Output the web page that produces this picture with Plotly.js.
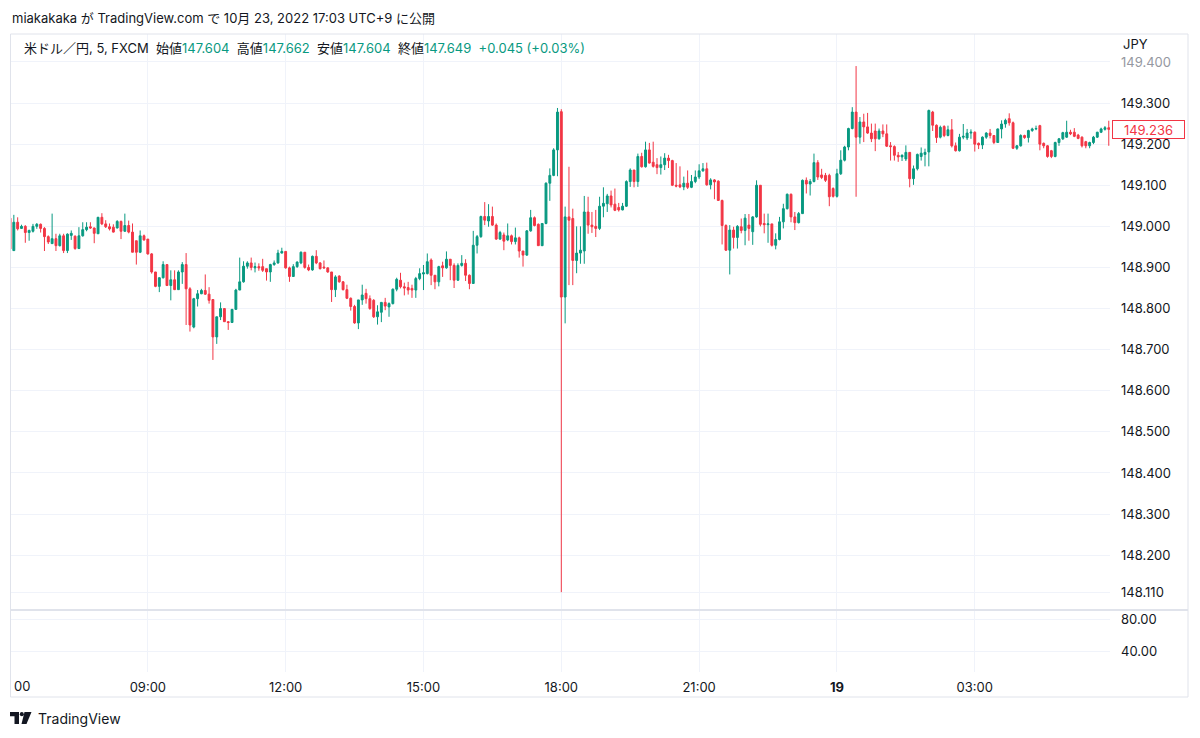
<!DOCTYPE html>
<html>
<head>
<meta charset="utf-8">
<script src="https://cdn.plot.ly/plotly-3.0.1.min.js"></script>
<style>html,body{margin:0;padding:0;background:#fff;}#chart{width:1200px;height:738px;}</style>
</head>
<body>
<div id="chart"></div>
<script>
// ---- data (USD/JPY, 5-minute bars, FXCM) ----
const startDay = 18;          // 2022-10-18 06:00 JST
const startMinute = 360;
const barMinutes = 5;

const opens = [
149.020,148.941,149.010,148.995,149.000,148.985,148.988,149.000,149.005,148.995,
148.975,148.958,148.970,148.953,148.977,148.941,148.978,148.976,148.946,148.977,
148.992,148.999,148.996,148.982,149.022,149.006,148.999,148.998,148.996,149.012,
148.988,149.002,148.986,148.965,148.937,148.977,148.969,148.933,148.889,148.854,
148.875,148.907,148.856,148.870,148.846,148.889,148.907,148.848,148.755,148.824,
148.836,148.844,148.835,148.822,148.731,148.780,148.800,148.768,148.766,148.798,
148.845,148.865,148.903,148.911,148.899,148.902,148.902,148.897,148.889,148.907,
148.911,148.935,148.939,148.899,148.878,148.902,148.911,148.937,148.900,148.894,
148.927,148.911,148.901,148.899,148.889,148.846,148.879,148.865,148.846,148.825,
148.805,148.765,148.821,148.837,148.824,148.820,148.780,148.791,148.815,148.804,
148.812,148.847,148.869,148.853,148.851,148.849,148.845,148.873,148.884,148.885,
148.918,148.881,148.865,148.904,148.899,148.920,148.905,148.869,148.905,148.910,
148.881,148.861,148.954,148.975,149.024,149.013,149.024,149.003,148.969,148.979,
148.967,148.977,148.963,148.972,148.940,148.930,148.989,149.021,149.005,148.953,
149.007,149.105,149.124,149.186,149.279,148.828,149.023,149.019,148.917,148.935,
148.940,149.035,149.003,149.000,148.995,149.049,149.055,149.074,149.054,149.046,
149.040,149.049,149.109,149.137,149.109,149.170,149.145,149.186,149.156,149.150,
149.143,149.150,149.166,149.160,149.100,149.101,149.096,149.105,149.095,149.109,
149.120,149.135,149.140,149.101,149.113,149.110,149.063,149.002,148.942,148.991,
148.973,148.999,148.990,149.003,148.987,149.023,149.100,149.007,149.004,149.006,
148.954,148.968,149.011,149.043,149.078,149.023,149.009,149.031,149.112,149.103,
149.109,149.155,149.125,149.124,149.124,149.092,149.073,149.128,149.161,149.193,
149.238,149.278,149.217,149.254,149.242,149.227,149.232,149.213,149.232,149.225,
149.196,149.194,149.173,149.169,149.164,149.180,149.116,149.140,149.170,149.175,
149.181,149.278,149.246,149.217,149.243,149.221,149.235,149.196,149.184,149.217,
149.215,149.227,149.229,149.202,149.198,149.217,149.227,149.221,149.204,149.237,
149.249,149.262,149.252,149.190,149.196,149.221,149.216,149.233,149.237,149.245,
149.202,149.196,149.184,149.170,149.204,149.213,149.217,149.229,149.229,149.222,
149.217,149.206,149.196,149.204,149.217,149.229,149.236,149.240
];
const highs = [
149.030,149.028,149.022,149.004,149.003,148.992,149.006,149.008,149.007,148.998,
148.978,149.031,148.982,148.982,148.982,148.983,148.990,148.978,148.998,149.010,
149.010,149.010,148.997,149.023,149.032,149.015,149.007,149.005,149.015,149.014,
149.031,149.014,149.007,148.965,148.990,148.980,148.969,148.935,148.889,148.876,
148.915,148.907,148.893,148.893,148.893,148.913,148.935,148.852,148.826,148.845,
148.848,148.883,148.852,148.822,148.780,148.815,148.800,148.769,148.799,148.848,
148.924,148.915,148.915,148.924,148.912,148.910,148.921,148.897,148.909,148.917,
148.943,148.948,148.939,148.902,148.908,148.915,148.939,148.937,148.907,148.929,
148.942,148.913,148.917,148.900,148.889,148.881,148.881,148.867,148.858,148.827,
148.809,148.821,148.858,148.848,148.832,148.823,148.808,148.816,148.826,148.815,
148.849,148.875,148.887,148.863,148.865,148.858,148.877,148.898,148.906,148.934,
148.922,148.881,148.904,148.914,148.939,148.920,148.910,148.910,148.930,148.920,
148.883,148.989,148.979,149.026,149.059,149.054,149.048,149.007,148.989,148.985,
149.007,148.980,148.997,148.975,148.940,148.991,149.040,149.024,149.007,149.008,
149.107,149.141,149.190,149.288,149.285,149.048,149.145,149.043,149.000,149.000,
149.074,149.072,149.035,149.040,149.072,149.095,149.079,149.087,149.092,149.057,
149.057,149.112,149.141,149.137,149.177,149.179,149.206,149.203,149.206,149.166,
149.170,149.178,149.174,149.162,149.154,149.146,149.121,149.136,149.125,149.136,
149.151,149.154,149.155,149.117,149.115,149.112,149.065,149.005,149.003,148.999,
149.003,149.019,149.030,149.030,149.025,149.112,149.100,149.031,149.031,149.006,
148.983,149.023,149.055,149.080,149.080,149.035,149.035,149.114,149.119,149.115,
149.177,149.161,149.140,149.130,149.128,149.095,149.140,149.185,149.196,149.240,
149.290,149.390,149.266,149.274,149.276,149.250,149.250,149.238,149.248,149.248,
149.205,149.197,149.181,149.175,149.197,149.180,149.148,149.177,149.192,149.189,
149.284,149.281,149.248,149.245,149.246,149.245,149.261,149.204,149.225,149.249,
149.237,149.236,149.231,149.204,149.219,149.229,149.237,149.222,149.238,149.258,
149.262,149.275,149.255,149.198,149.224,149.223,149.235,149.240,149.245,149.247,
149.204,149.198,149.186,149.206,149.215,149.230,149.257,149.235,149.239,149.225,
149.219,149.208,149.206,149.220,149.230,149.240,149.244,149.257
];
const lows = [
148.940,148.940,148.990,148.994,148.960,148.965,148.985,148.994,148.985,148.940,
148.957,148.957,148.940,148.951,148.935,148.935,148.967,148.943,148.945,148.975,
148.988,148.994,148.959,148.982,149.003,148.996,148.990,148.985,148.995,148.969,
148.987,148.983,148.937,148.907,148.935,148.965,148.931,148.885,148.852,148.840,
148.873,148.855,148.820,148.845,148.846,148.860,148.760,148.744,148.752,148.805,
148.835,148.833,148.812,148.675,148.714,148.772,148.768,148.748,148.765,148.797,
148.845,148.863,148.897,148.893,148.888,148.892,148.889,148.868,148.865,148.904,
148.909,148.934,148.897,148.865,148.877,148.899,148.908,148.897,148.891,148.892,
148.908,148.895,148.897,148.887,148.816,148.828,148.863,148.844,148.823,148.795,
148.763,148.750,148.809,148.812,148.797,148.777,148.761,148.767,148.796,148.780,
148.810,148.842,148.849,148.832,148.834,148.826,148.826,148.869,148.845,148.883,
148.857,148.847,148.854,148.877,148.897,148.869,148.850,148.867,148.902,148.867,
148.847,148.860,148.934,148.972,149.003,148.999,149.001,148.967,148.967,148.942,
148.964,148.956,148.956,148.924,148.902,148.928,148.987,149.000,148.953,148.952,
149.005,149.062,149.122,149.122,148.110,148.764,148.857,148.857,148.886,148.909,
148.909,148.982,148.984,148.974,148.991,149.022,149.035,149.046,149.037,149.036,
149.039,149.047,149.096,149.095,149.096,149.143,149.143,149.153,149.143,149.127,
149.126,149.137,149.142,149.098,149.095,149.093,149.088,149.091,149.093,149.105,
149.115,149.133,149.099,149.090,149.066,149.062,148.956,148.940,148.883,148.946,
148.946,148.983,148.954,148.965,148.955,149.021,149.000,148.983,148.960,148.951,
148.944,148.966,148.995,149.041,149.010,148.991,149.007,149.030,149.080,149.075,
149.107,149.113,149.115,149.108,149.049,149.070,149.070,149.125,149.158,149.185,
149.236,149.072,149.201,149.205,149.225,149.205,149.183,149.211,149.217,149.193,
149.160,149.160,149.157,149.159,149.159,149.095,149.101,149.136,149.160,149.146,
149.146,149.232,149.203,149.214,149.217,149.219,149.192,149.182,149.182,149.212,
149.210,149.213,149.182,149.188,149.188,149.213,149.214,149.200,149.203,149.214,
149.240,149.245,149.188,149.186,149.194,149.213,149.204,149.230,149.234,149.185,
149.190,149.167,149.166,149.168,149.196,149.210,149.215,149.222,149.217,149.212,
149.192,149.190,149.190,149.200,149.215,149.227,149.233,149.196
];
const closes = [
148.945,149.010,148.994,149.000,148.985,148.990,149.000,149.005,148.995,148.975,
148.962,148.970,148.953,148.977,148.941,148.981,148.983,148.946,148.977,148.992,
148.998,148.996,148.983,149.022,149.006,148.999,148.994,148.986,149.012,148.988,
149.002,148.986,148.937,148.937,148.977,148.967,148.933,148.889,148.854,148.875,
148.907,148.856,148.870,148.846,148.889,148.907,148.848,148.760,148.824,148.836,
148.844,148.835,148.820,148.731,148.780,148.800,148.768,148.766,148.798,148.845,
148.865,148.903,148.911,148.900,148.902,148.899,148.893,148.889,148.907,148.911,
148.935,148.939,148.899,148.878,148.902,148.913,148.937,148.900,148.894,148.927,
148.911,148.897,148.899,148.889,148.846,148.877,148.865,148.846,148.825,148.805,
148.765,148.821,148.833,148.824,148.800,148.780,148.792,148.815,148.806,148.812,
148.847,148.871,148.853,148.850,148.845,148.845,148.873,148.885,148.887,148.914,
148.881,148.865,148.902,148.899,148.920,148.905,148.869,148.905,148.910,148.881,
148.861,148.954,148.975,149.024,149.015,149.024,149.003,148.969,148.985,148.964,
148.977,148.963,148.972,148.940,148.930,148.989,149.021,149.002,148.953,149.007,
149.105,149.124,149.186,149.278,148.828,149.023,149.015,148.917,148.935,148.942,
149.035,149.003,148.999,148.995,149.049,149.056,149.074,149.052,149.039,149.040,
149.049,149.109,149.137,149.109,149.170,149.145,149.186,149.154,149.146,149.143,
149.150,149.166,149.160,149.100,149.098,149.096,149.105,149.095,149.109,149.120,
149.135,149.140,149.101,149.113,149.108,149.063,149.002,148.942,148.991,148.973,
149.000,148.990,149.020,148.995,149.023,149.100,149.005,149.004,149.006,148.954,
148.968,149.011,149.043,149.078,149.023,149.009,149.031,149.112,149.103,149.109,
149.155,149.120,149.119,149.112,149.072,149.073,149.128,149.161,149.193,149.238,
149.278,149.217,149.254,149.242,149.227,149.213,149.213,149.232,149.225,149.195,
149.194,149.173,149.169,149.173,149.180,149.116,149.140,149.175,149.178,149.180,
149.282,149.246,149.216,149.241,149.221,149.235,149.196,149.184,149.217,149.219,
149.227,149.229,149.200,149.198,149.217,149.227,149.221,149.204,149.237,149.249,
149.258,149.252,149.190,149.196,149.221,149.216,149.233,149.237,149.238,149.200,
149.196,149.170,149.170,149.204,149.213,149.228,149.229,149.225,149.219,149.214,
149.196,149.196,149.204,149.217,149.229,149.237,149.240,149.236
];

const timeTickVals = ['2022-10-18 06:00','2022-10-18 09:00','2022-10-18 12:00','2022-10-18 15:00',
                      '2022-10-18 18:00','2022-10-18 21:00','2022-10-19 00:00','2022-10-19 03:00'];
const timeTickText = ['','09:00','12:00','15:00','18:00','21:00','<b>19</b>','03:00'];
const firstTickVisibleText = '00';   // the 06:00 label, cut by the pane edge in the original
const priceTickVals = [149.4,149.3,149.2,149.1,149.0,148.9,148.8,148.7,148.6,148.5,148.4,148.3,148.2,148.11];
const priceTickText = ['<span style="color:#9598a1">149.400</span>','149.300','149.200','149.100','149.000','148.900','148.800',
                       '148.700','148.600','148.500','148.400','148.300','148.200','148.110'];
const lowerTickVals = [40, 80];
const lowerTickText = ['40.00', '80.00'];
const lastPrice = 149.236;
const headerText = 'miakakaka が TradingView.com で 10月 23, 2022 17:03 UTC+9 に公開';
const symbolText = '米ドル／円, 5, FXCM';
const ohlcLabels = ['始値','高値','安値','終値'];
const ohlcValues = ['147.604','147.662','147.604','147.649'];
const changeText = '+0.045 (+0.03%)';

// ---- build ----
function pad(n){ return (n < 10 ? '0' : '') + n; }
const times = [];
for (let i = 0; i < closes.length; i++) {
  const m = startMinute + barMinutes * i;
  const d = startDay + Math.floor(m / 1440);
  const mm = m % 1440;
  times.push('2022-10-' + d + ' ' + pad(Math.floor(mm / 60)) + ':' + pad(mm % 60));
}

const G = '#089981', R = '#f23645', TXT = '#131722', GRID = '#f0f3fa', BORDER = '#e0e3eb';
const FONT = "Inter, 'Noto Sans CJK JP', 'Noto Sans', sans-serif";

// pixel -> paper helpers for decoration (plot area: x 10..1110, y 34..672)
const px = x => (x - 10) / 1100;
const py = y => (672 - y) / 638;

const traces = [
  {
    type: 'candlestick', x: times, open: opens, high: highs, low: lows, close: closes,
    xaxis: 'x', yaxis: 'y',
    increasing: {line: {color: G, width: 1}, fillcolor: G},
    decreasing: {line: {color: R, width: 1}, fillcolor: R},
    whiskerwidth: 0, hoverinfo: 'skip', showlegend: false
  },
  {type: 'scatter', x: [], y: [], xaxis: 'x', yaxis: 'y2', hoverinfo: 'skip', showlegend: false}
];

const sp = '\u00a0';
let legend = symbolText + sp + sp;
for (let k = 0; k < ohlcLabels.length; k++) {
  legend += ohlcLabels[k] + '<span style="color:' + G + '">' + ohlcValues[k] + '</span>' + sp + sp;
}
legend += '<span style="color:' + G + '">' + changeText + '</span>';

const layout = {
  width: 1200, height: 738,
  margin: {l: 10, r: 90, t: 34, b: 66, pad: 0},
  paper_bgcolor: '#ffffff', plot_bgcolor: '#ffffff',
  showlegend: false, hovermode: false,
  font: {family: FONT, size: 13, color: TXT},
  xaxis: {
    type: 'date', anchor: 'y2',
    range: ['2022-10-18 06:00', '2022-10-19 05:56:36'],
    tickvals: timeTickVals, ticktext: timeTickText,
    tickfont: {size: 13, color: TXT}, ticks: '', ticklabelstandoff: 6,
    showgrid: true, gridcolor: GRID, gridwidth: 1, zeroline: false, showline: false,
    rangeslider: {visible: false}, fixedrange: true
  },
  yaxis: {
    domain: [0.09875, 1], anchor: 'x', side: 'right',
    range: [148.069, 149.468],
    tickvals: priceTickVals, ticktext: priceTickText,
    tickfont: {size: 13, color: TXT}, ticks: '', ticklabelstandoff: 10,
    showgrid: true, gridcolor: GRID, gridwidth: 1, zeroline: false, showline: false, fixedrange: true
  },
  yaxis2: {
    domain: [0, 0.0956], anchor: 'x', side: 'right',
    range: [13.8, 90],
    tickvals: lowerTickVals, ticktext: lowerTickText,
    tickfont: {size: 13, color: TXT}, ticks: '', ticklabelstandoff: 10,
    showgrid: true, gridcolor: GRID, gridwidth: 1, zeroline: false, showline: false, fixedrange: true
  },
  shapes: [
    // pane separator
    {type: 'line', xref: 'paper', yref: 'paper', x0: px(10), x1: px(1188), y0: py(610), y1: py(610),
     line: {color: BORDER, width: 2}, layer: 'above'},
    // outer frame
    {type: 'rect', xref: 'paper', yref: 'paper', x0: px(10.5), x1: px(1188), y0: py(697), y1: py(34),
     line: {color: BORDER, width: 1}, fillcolor: 'rgba(0,0,0,0)', layer: 'above'},
    // TradingView logo
    {type: 'path', xref: 'paper', yref: 'paper',
     path: 'M ' + px(10) + ' ' + py(712) + ' L ' + px(19) + ' ' + py(712) + ' L ' + px(19) + ' ' + py(724) +
           ' L ' + px(14.5) + ' ' + py(724) + ' L ' + px(14.5) + ' ' + py(716.3) + ' L ' + px(10) + ' ' + py(716.3) + ' Z',
     fillcolor: TXT, line: {width: 0}, layer: 'above'},
    {type: 'circle', xref: 'paper', yref: 'paper', x0: px(19.8), x1: px(23.8), y0: py(716.3), y1: py(712),
     fillcolor: TXT, line: {width: 0}, layer: 'above'},
    {type: 'path', xref: 'paper', yref: 'paper',
     path: 'M ' + px(24.5) + ' ' + py(712) + ' L ' + px(31.5) + ' ' + py(712) + ' L ' + px(26.5) + ' ' + py(724) +
           ' L ' + px(21.5) + ' ' + py(724) + ' Z',
     fillcolor: TXT, line: {width: 0}, layer: 'above'}
  ],
  annotations: [
    {xref: 'paper', yref: 'paper', x: 0, y: py(18), xanchor: 'left', yanchor: 'middle', showarrow: false,
     text: headerText, font: {size: 13, color: TXT}},
    {xref: 'paper', yref: 'paper', x: px(22), y: py(48), xanchor: 'left', yanchor: 'middle', showarrow: false,
     text: legend, font: {size: 13, color: TXT}},
    {xref: 'paper', yref: 'paper', x: px(1121), y: py(44), xanchor: 'left', yanchor: 'middle', showarrow: false,
     text: 'JPY', font: {size: 13, color: TXT}},
    {xref: 'paper', yref: 'y', x: px(1112), y: lastPrice, xanchor: 'left', yanchor: 'middle', showarrow: false,
     text: lastPrice.toFixed(3), font: {size: 13, color: R}, bgcolor: '#ffffff', bordercolor: R,
     borderwidth: 1, borderpad: 1, width: 69, height: 15, align: 'center'},
    {xref: 'paper', yref: 'paper', x: px(11.5), y: py(686), xanchor: 'left', yanchor: 'middle', showarrow: false,
     text: firstTickVisibleText, font: {size: 13, color: TXT}},
    {xref: 'paper', yref: 'paper', x: px(36), y: py(718), xanchor: 'left', yanchor: 'middle', showarrow: false,
     text: 'TradingView', font: {size: 14, color: TXT}}
  ]
};

Plotly.newPlot('chart', traces, layout, {staticPlot: true, displayModeBar: false});
</script>
</body>
</html>
